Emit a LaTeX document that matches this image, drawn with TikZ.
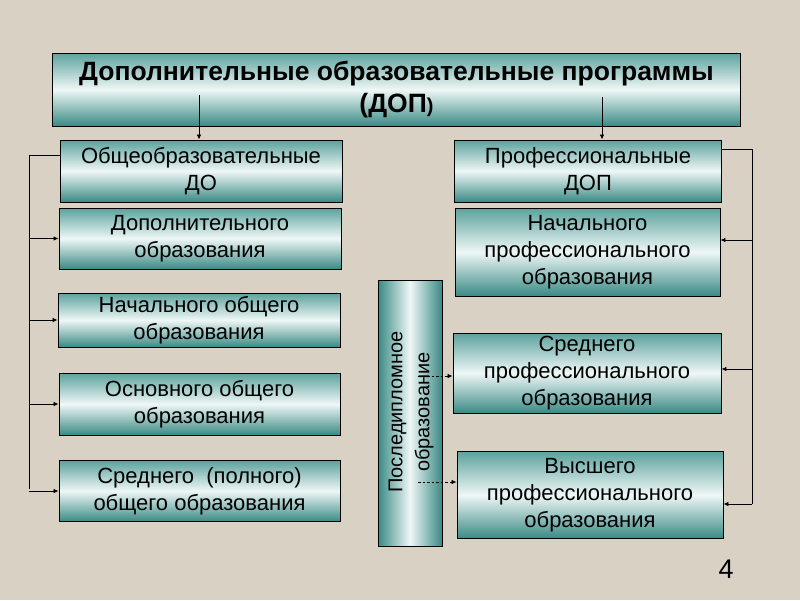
\documentclass[tikz,border=0pt]{standalone}
\usepackage{fontspec}
\setmainfont{Liberation Sans}
\usetikzlibrary{arrows.meta}
\definecolor{bg}{RGB}{216,209,196}
\definecolor{tealtop}{RGB}{92,162,157}
\definecolor{tealbot}{RGB}{58,138,133}
\definecolor{tealmid}{RGB}{238,247,246}
\tikzset{
  box/.style={draw=black, line width=0.9pt, top color=tealtop, bottom color=tealbot, middle color=tealmid,
    align=center, inner sep=0pt, font=\fontsize{22}{27}\selectfont},
  vbox/.style={draw=black, line width=0.9pt, left color=tealbot, right color=tealbot, middle color=tealmid,
    inner sep=0pt},
  arr/.style={draw=black, line width=0.8pt, -{Latex[length=5pt,width=4.5pt]}},
  bus/.style={draw=black, line width=0.8pt},
  darr/.style={draw=black, line width=0.8pt, dashed, dash pattern=on 2.5pt off 2pt, -{Latex[length=5pt,width=4.5pt]}}
}
\begin{document}
\begin{tikzpicture}[x=1pt,y=-1pt]
\fill[bg] (0,0) rectangle (800,600);
\useasboundingbox (0,0) rectangle (800,600);

% title
\node[box, minimum width=688pt, minimum height=73pt, font=\fontsize{26.5}{32}\selectfont\bfseries] (title) at (396.5,89.5)
  {Дополнительные образовательные программы\\\hspace*{0pt}(ДОП{\fontsize{20}{22}\selectfont)}};

% left column
\node[box, minimum width=282pt, minimum height=62pt] (ob) at (201,171) {Общеобразовательные\\ДО};
\node[box, minimum width=282pt, minimum height=61pt] (dop) at (200,238.5) {Дополнительного\\образования};
\node[box, minimum width=282pt, minimum height=54pt] (nach) at (199,320) {Начального общего\\образования};
\node[box, minimum width=281pt, minimum height=62pt] (osn) at (199.5,404) {Основного общего\\образования};
\node[box, minimum width=281pt, minimum height=61pt] (sred) at (199.5,491) {Среднего\ \ (полного)\\общего образования};

% right column
\node[box, minimum width=267pt, minimum height=62pt] (pr) at (588,171) {Профессиональные\\ДОП};
\node[box, minimum width=265pt, minimum height=88pt] (np) at (587.5,252) {Начального\\профессионального\\образования};
\node[box, minimum width=268pt, minimum height=80pt] (sp) at (587,373) {Среднего\\профессионального\\образования};
\node[box, minimum width=266pt, minimum height=87pt] (vp) at (590,495) {Высшего\\профессионального\\образования};

% vertical box
\node[vbox, minimum width=64pt, minimum height=266pt] (pd) at (410,413) {};
\node[rotate=90, align=center, font=\fontsize{20}{27}\selectfont] (pdt) at (411,412) {Последипломное\\образование};

% arrows from title
\coordinate (t1) at (199,95);
\coordinate (t2) at (602,97);
\draw[arr] (t1) -- (t1 |- ob.north);
\draw[arr] (t2) -- (t2 |- pr.north);

% left bus
\coordinate (lb) at (29,155);
\coordinate (lbe) at (29,489);
\draw[bus] (lb -| ob.west) -- (lb) -- (lbe);
\draw[arr] (lb |- dop.west) -- (dop.west);
\draw[arr] (lb |- nach.west) -- (nach.west);
\draw[arr] (lb |- osn.west) -- (osn.west);
\draw[arr] (lb |- sred.west) -- (sred.west);

% right bus
\coordinate (rb) at (752,149);
\coordinate (rbe) at (752,504);
\coordinate (r1) at (752,240);
\coordinate (r2) at (752,369);
\draw[bus] (rb -| pr.east) -- (rb) -- (rbe);
\draw[arr] (r1) -- (r1 -| np.east);
\draw[arr] (r2) -- (r2 -| sp.east);
\draw[arr] (rbe) -- (rbe -| vp.east);

% dashed arrows
\coordinate (d1) at (418,376);
\coordinate (d2) at (418,482);
\draw[darr] (d1) -- (d1 -| sp.west);
\draw[darr] (d2) -- (d2 -| vp.west);

% page number
\node[font=\fontsize{27}{30}\selectfont] (pg) at (726,569) {4};
\end{tikzpicture}
\end{document}
